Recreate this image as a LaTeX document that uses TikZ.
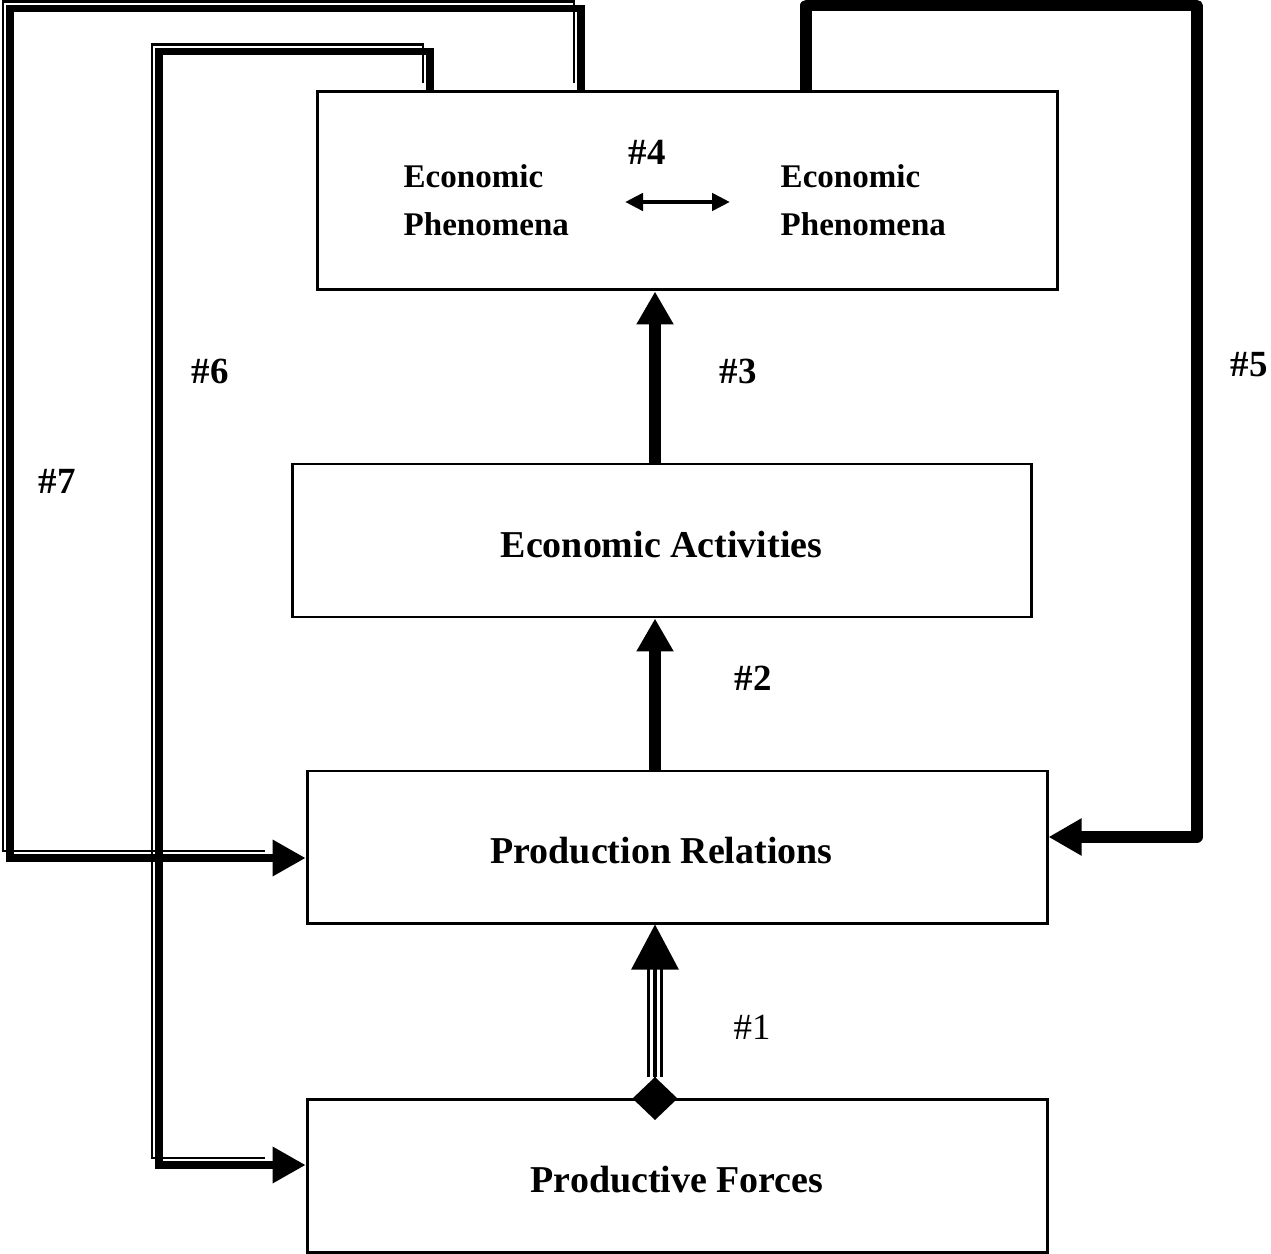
\documentclass[tikz,border=0pt]{standalone}
\usepackage{fontspec}
\setmainfont{Liberation Serif}
\usetikzlibrary{positioning, arrows.meta, calc}

\begin{document}
\begin{tikzpicture}[
    >={Triangle[length=0.33cm, width=0.35cm]},
    box/.style={draw, rectangle, line width=0.85pt, inner sep=0pt},
    bigtxt/.style={font=\fontsize{10.8}{13}\selectfont\bfseries},
    smalltxt/.style={align=left, anchor=west, inner sep=0pt, font=\fontsize{9.4}{13.7}\selectfont\bfseries},
    numtxt/.style={font=\fontsize{10.5}{12}\selectfont\bfseries},
    boldarrow/.style={->, line width=3.4pt},
    heavyline/.style={->, line width=3.2pt, line join=round},
    twoline/.style={->, line width=2pt},
    thinline/.style={line width=0.6pt, shorten >=0.33cm, transform canvas={shift={(-2pt,2pt)}}},
    triline/.style={line width=4.7pt, shorten <=0.42cm, shorten >=0.4cm,
        postaction={draw, white, line width=3.1pt, shorten <=0.42cm, shorten >=0.4cm},
        postaction={draw, black, line width=0.9pt, shorten <=0.42cm, shorten >=0.4cm}}
]

\useasboundingbox (0,0) rectangle (12.71,-12.54);

% boxes
\node[box, minimum width=7.40cm, minimum height=1.98cm] (top) at (6.87, -1.91) {};
\node[box, minimum width=7.39cm, minimum height=1.53cm] (act) at (6.615, -5.405) {};
\node[bigtxt] (acttxt) at (6.615, -5.45) {Economic Activities};
\node[box, minimum width=7.40cm, minimum height=1.52cm] (rel) at (6.77, -8.47) {};
\node[bigtxt] (reltxt) at (6.615, -8.51) {Production Relations};
\node[box, minimum width=7.40cm, minimum height=1.53cm] (pf) at (6.77, -11.755) {};
\node[bigtxt] (pftxt) at (6.77, -11.80) {Productive Forces};

% inside the top box
\node[smalltxt] (ephl) at (4.03, -2.00) {Economic\\Phenomena};
\node[smalltxt] (ephr) at (7.80, -2.00) {Economic\\Phenomena};
\node[numtxt] (n4) at (6.47, -1.52) {\#4};
\coordinate (a4l) at (6.25, -2.02);
\coordinate (a4r) at (7.30, -2.02);
\draw[{Triangle[length=0.18cm, width=0.17cm]}-{Triangle[length=0.18cm, width=0.17cm]}, line width=1.3pt] (a4l) -- (a4r);

% #3 and #2
\draw[boldarrow] (act.north -| 6.55,0) -- (top.south -| 6.55,0);
\node[numtxt] (n3) at (7.38, -3.71) {\#3};
\draw[boldarrow] (rel.north -| 6.55,0) -- (act.south -| 6.55,0);
\node[numtxt] (n2) at (7.53, -6.78) {\#2};

% #1
\coordinate (d1) at ($(pf.north -| 6.55,0) + (0,-0.215)$);
\draw[triline] (d1) -- (rel.south -| 6.55,0);
\draw[{Diamond[length=0.43cm, width=0.45cm]}-{Triangle[length=0.45cm, width=0.47cm]}, line width=0.8pt, shorten <=-0.01cm] (d1) -- (rel.south -| 6.55,0);
\node[font=\fontsize{10.5}{12}\selectfont] (n1) at (7.52, -10.27) {\#1};

% #5
\coordinate (c5) at (11.97, -0.055);
\draw[heavyline] (top.north -| 8.06,0) |- (c5) |- (rel.east |- 0,-8.37);
\node[numtxt] (n5) at (12.49, -3.65) {\#5};

% #7
\coordinate (c7) at (0.10, -0.085);
\draw[twoline] (top.north -| 5.81,0) |- (c7) |- (rel.west |- 0,-8.58);
\draw[thinline] (top.north -| 5.81,0) |- (c7) |- (rel.west |- 0,-8.58);
\node[numtxt] (n7) at (0.57, -4.81) {\#7};

% #6
\coordinate (c6) at (1.59, -0.515);
\draw[twoline] (top.north -| 4.30,0) |- (c6) |- (pf.west |- 0,-11.65);
\draw[thinline] (top.north -| 4.30,0) |- (c6) |- (pf.west |- 0,-11.65);
\node[numtxt] (n6) at (2.10, -3.71) {\#6};

\end{tikzpicture}
\end{document}
